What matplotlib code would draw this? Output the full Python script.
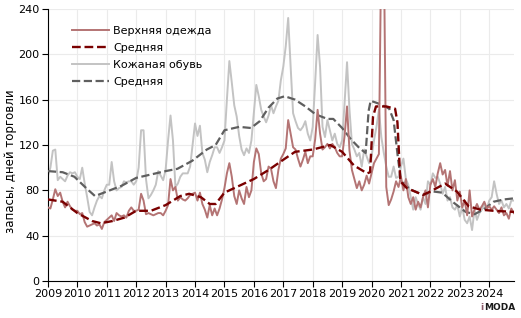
import numpy as np
import matplotlib.pyplot as plt

# месячные данные, январь 2009 - ноябрь 2024
clothes = [
    65, 64, 72, 81, 75, 78, 70, 65, 70, 66, 63, 62,
    62, 59, 60, 52, 48, 49, 50, 51, 49, 50, 46, 52,
    54, 56, 58, 53, 60, 58, 57, 58, 56, 62, 65, 62,
    62, 63, 77, 71, 59, 60, 59, 58, 59, 60, 60, 58,
    62, 67, 90, 80, 83, 71, 74, 72, 71, 73, 76, 77,
    78, 71, 78, 68, 63, 56, 67, 58, 64, 58, 64, 72,
    82, 95, 104, 92, 75, 68, 80, 73, 68, 83, 74, 80,
    105, 117, 112, 95, 88, 90, 101, 99, 88, 82, 98, 108,
    112, 117, 142, 130, 118, 116, 108, 101, 107, 114, 104, 110,
    110, 125, 151, 130, 116, 118, 121, 117, 121, 118, 113, 110,
    110, 128, 154, 115, 98, 90, 82, 88, 80, 85, 93, 86,
    95, 104, 108, 112, 300, 300, 83, 67, 72, 79, 88, 83,
    92, 80, 90, 74, 68, 74, 63, 70, 65, 74, 80, 65,
    85, 90, 83, 95, 104, 94, 98, 84, 97, 80, 89, 71,
    79, 65, 71, 58, 80, 57, 63, 68, 63, 66, 70, 64,
    66, 63, 66, 63, 60, 65, 58, 60, 55, 64, 60,
]
shoes = [
    93, 100, 115, 116, 89, 92, 90, 88, 93, 96, 95, 96,
    92, 90, 100, 86, 74, 61, 58, 65, 71, 75, 73, 80,
    85, 85, 105, 88, 80, 82, 83, 88, 87, 88, 88, 85,
    88, 100, 133, 133, 90, 73, 76, 80, 85, 97, 93, 89,
    98, 124, 146, 124, 83, 86, 92, 95, 95, 95, 101, 120,
    139, 128, 137, 113, 107, 96, 105, 111, 118, 118, 113, 118,
    124, 160, 194, 175, 155, 145, 128, 116, 111, 117, 113, 124,
    148, 173, 163, 151, 145, 140, 146, 155, 148, 154, 159, 177,
    189, 207, 232, 189, 148, 141, 135, 133, 136, 141, 130, 124,
    136, 175, 217, 189, 136, 127, 142, 133, 124, 130, 121, 118,
    124, 157, 193, 151, 121, 116, 110, 113, 101, 116, 110, 104,
    110, 124, 136, 151, 127, 113, 101, 92, 92, 101, 91, 92,
    101, 108, 90, 85, 74, 63, 74, 68, 63, 74, 68, 88,
    85, 95, 91, 92, 86, 77, 83, 71, 74, 65, 63, 67,
    57, 65, 54, 51, 57, 45, 63, 54, 60, 63, 68, 63,
    71, 74, 88, 77, 68, 71, 65, 68, 64, 71, 71,
]
months = 2009 + np.arange(len(clothes)) / 12

clothes_avg_t = [2009.0, 2009.5, 2010.0, 2010.5, 2010.8, 2011.2, 2011.6, 2012.0, 2012.5,
                 2013.0, 2013.5, 2013.8, 2014.2, 2014.5, 2014.7, 2015.0, 2015.5, 2016.0,
                 2016.5, 2017.0, 2017.4, 2018.0, 2018.6, 2019.0, 2019.4, 2019.85,
                 2019.95, 2020.05, 2020.15, 2020.5, 2020.8, 2020.88, 2020.98, 2021.2,
                 2021.75, 2022.0, 2022.5, 2022.9, 2023.3, 2023.7, 2024.15, 2024.85]
clothes_avg = [72, 70, 60, 53, 51, 53, 56, 62, 62,
               67, 75, 77, 74, 68, 68, 78, 84, 90,
               98, 107, 114, 116, 120, 114, 102, 95,
               96, 145, 154, 154, 152, 140, 88, 82,
               76, 79, 86, 79, 66, 63, 62, 61]
shoes_avg_t = [2009.0, 2009.5, 2009.9, 2010.3, 2010.6, 2011.0, 2011.5, 2012.0, 2012.5,
               2013.0, 2013.4, 2013.9, 2014.4, 2014.7, 2015.0, 2015.5, 2015.9, 2016.2,
               2016.5, 2016.8, 2017.05, 2017.4, 2017.75, 2018.1, 2018.5, 2018.7,
               2019.0, 2019.3, 2019.6, 2019.8, 2019.9, 2019.97, 2020.3, 2020.6,
               2020.75, 2020.9, 2021.0, 2021.3, 2021.75, 2022.1, 2022.4, 2022.8,
               2023.2, 2023.5, 2023.8, 2024.15, 2024.5, 2024.85]
shoes_avg = [97, 96, 92, 82, 75, 79, 84, 91, 94,
             97, 99, 106, 116, 120, 133, 136, 135, 141,
             153, 161, 163, 160, 154, 147, 143, 143,
             135, 125, 117, 113, 150, 159, 156, 152,
             142, 108, 89, 81, 76, 79, 78, 69,
             61, 59, 63, 70, 72, 73]

years = list(range(2009, 2025))
yticks = [0, 40, 80, 120, 160, 200, 240]

fig = plt.figure(figsize=(5.21, 3.18), dpi=100)
ax = fig.add_axes([0.092, 0.116, 0.895, 0.856])

ax.plot(months, shoes, "-", c="#c3c3c3", lw=1.4, label="Кожаная обувь", zorder=2)
ax.plot(shoes_avg_t, shoes_avg, "--", c="#5f5f5f", lw=1.6, label="Средняя", zorder=3)
ax.plot(months, clothes, "-", c="#b47474", lw=1.4, label="Верхняя одежда", zorder=4)
ax.plot(clothes_avg_t, clothes_avg, "--", c="#7a0000", lw=1.7, label="Средняя", zorder=5)

ax.set_xlim(2009, 2024.85)
ax.set_ylim(0, 240)
ax.set_xticks(years)
ax.set_yticks(yticks)
ax.tick_params(labelsize=8, length=4, width=0.8, colors="black", pad=2)
ax.grid(color="#ebebeb", lw=0.8, zorder=0)
ax.set_axisbelow(True)
for s in ["top", "right"]:
    ax.spines[s].set_visible(False)
ax.set_ylabel("запасы, дней торговли", fontsize=8.5)
ax.yaxis.set_label_coords(-0.066, 0.44)

h, l = ax.get_legend_handles_labels()
order = [2, 3, 0, 1]
ax.legend([h[i] for i in order], [l[i] for i in order], loc="upper left",
          bbox_to_anchor=(0.03, 0.975), frameon=False, fontsize=8,
          handlelength=3.3, handletextpad=0.4, labelspacing=0.65)

# логотип
fig.text(0.927, 0.025, "i", fontsize=6.5, weight="bold", color="#8a5a6a", ha="right")
fig.text(0.99, 0.025, "MODA", fontsize=6.5, weight="bold", color="#1a1a1a", ha="right")

fig.savefig("out.png", dpi=100)
